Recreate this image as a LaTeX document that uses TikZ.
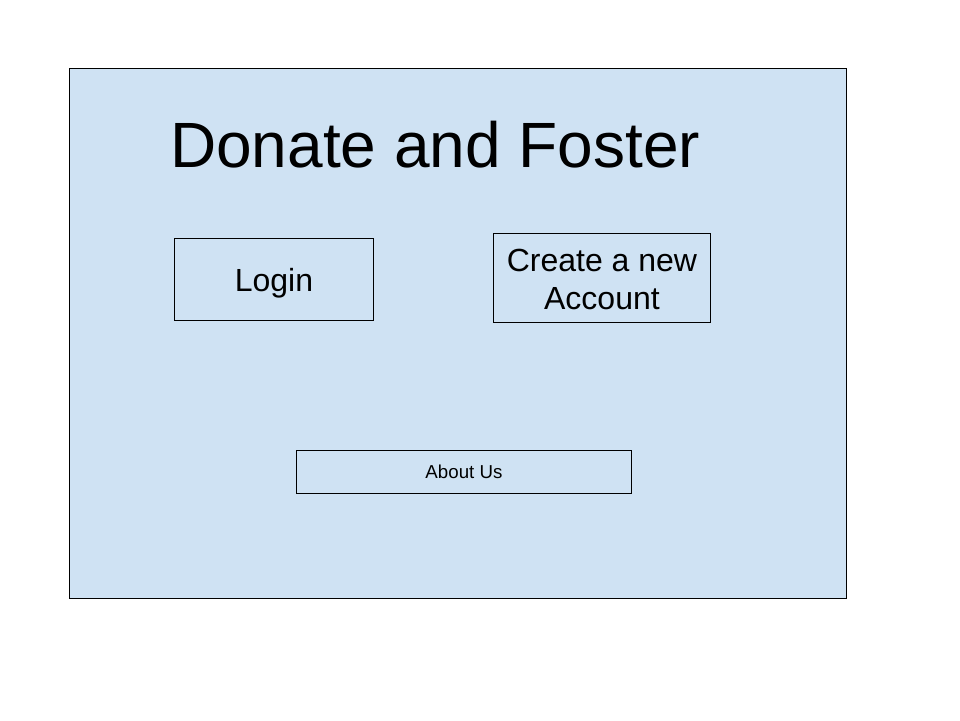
\documentclass[tikz,border=0pt]{standalone}
\usepackage{fontspec}
\setmainfont{Liberation Sans}
\definecolor{panelblue}{HTML}{CFE2F3}
\begin{document}
\begin{tikzpicture}[x=1pt,y=-1pt,
  box/.style={draw=black,line width=0.9pt,inner sep=0pt,align=center},
  bigtext/.style={font=\fontsize{32}{38}\selectfont}]
\useasboundingbox (0,0) rectangle (960,720);
\node[box,fill=panelblue,minimum width=777pt,minimum height=530pt,anchor=north west] (panel) at (69,68) {};
\node[anchor=base west,inner sep=0pt,font=\fontsize{64}{74}\selectfont] (title) at (170,167) {Donate and Foster};
\node[box,minimum width=199pt,minimum height=82pt,anchor=north west] (login) at (174,238) {};
\node[bigtext,inner sep=0pt] (logintext) at ([yshift=-4pt]login.center) {Login};
\node[box,minimum width=217pt,minimum height=89pt,anchor=north west] (create) at (493,233) {};
\node[bigtext,align=center,inner sep=0pt] (createtext) at ([yshift=-2pt]create.center) {Create a new\\Account};
\node[box,minimum width=335pt,minimum height=43pt,anchor=north west,font=\fontsize{18.7}{22}\selectfont] (about) at (296,450) {About Us};
\end{tikzpicture}
\end{document}
